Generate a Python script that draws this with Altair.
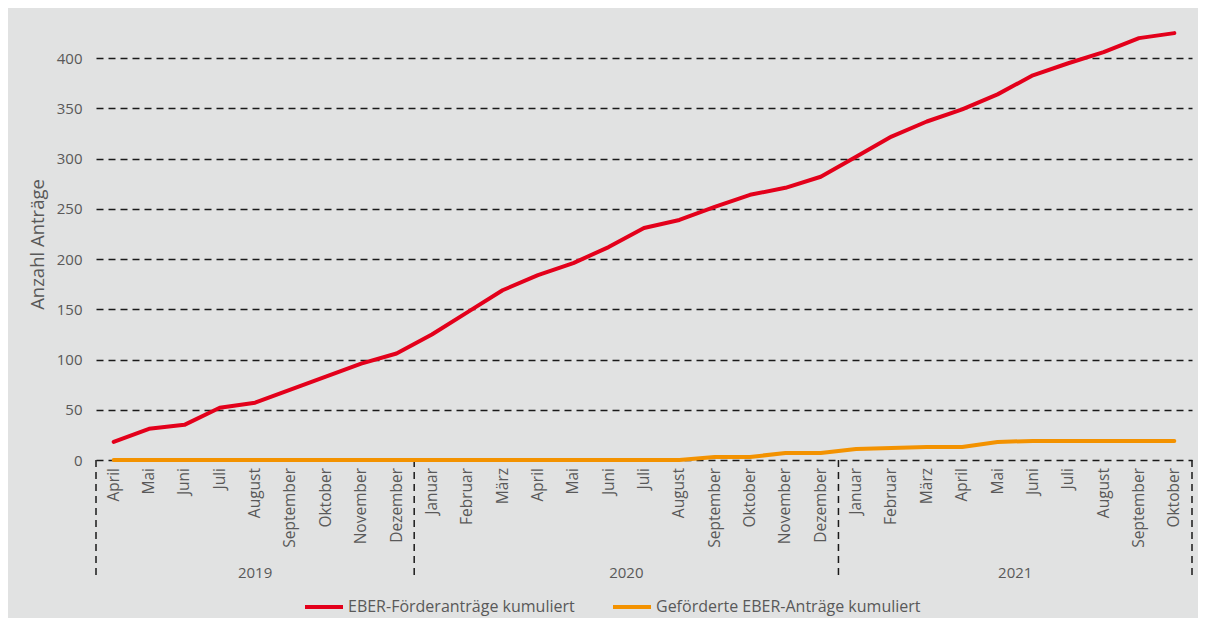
import altair as alt
import pandas as pd

months = ["April", "Mai", "Juni", "Juli", "August", "September", "Oktober", "November", "Dezember",
          "Januar", "Februar", "März", "April", "Mai", "Juni", "Juli", "August", "September", "Oktober",
          "November", "Dezember",
          "Januar", "Februar", "März", "April", "Mai", "Juni", "Juli", "August", "September", "Oktober"]
eber_antraege = [18, 31, 35, 52, 57, 70, 83, 96, 106,
                 125, 147, 169, 184, 196, 212, 231, 239, 252, 264, 271, 282,
                 302, 322, 337, 349, 364, 383, 395, 406, 420, 425]
gefoerdert = [0, 0, 0, 0, 0, 0, 0, 0, 0,
              0, 0, 0, 0, 0, 0, 0, 0, 3, 3, 7, 7,
              11, 12, 13, 13, 18, 19, 19, 19, 19, 19]
series_names = ["EBER-Förderanträge kumuliert", "Geförderte EBER-Anträge kumuliert"]
series_colors = ["#e3001b", "#f39200"]
years = ["2019", "2020", "2021"]
year_start = [-0.5, 8.5, 20.5]
year_end = [8.5, 20.5, 30.5]
y_ticks = [0, 50, 100, 150, 200, 250, 300, 350, 400]

TXT = "#595959"
FONT = "Open Sans"
GRID = "#1a1a1a"

rows = []
for i, m in enumerate(months):
    rows.append({"idx": i, "monat": m, "wert": eber_antraege[i], "serie": series_names[0]})
for i, m in enumerate(months):
    rows.append({"idx": i, "monat": m, "wert": gefoerdert[i], "serie": series_names[1]})
df = pd.DataFrame(rows)

df_months = pd.DataFrame({"idx": list(range(len(months))), "monat": months})
bounds = sorted(set(year_start + year_end))
df_bounds = pd.DataFrame({"idx": bounds})
df_years = pd.DataFrame({"jahr": years,
                         "idx": [(a + b) / 2 for a, b in zip(year_start, year_end)]})

xscale = alt.Scale(domain=[-0.5, 30.5], nice=False, zero=False)
yscale = alt.Scale(domain=[0, 450], nice=False)

lines = alt.Chart(df).mark_line(strokeWidth=4, strokeJoin="round", strokeCap="round").encode(
    x=alt.X("idx:Q", scale=xscale,
            axis=alt.Axis(values=list(range(len(months))), labels=False, title=None,
                          grid=False, ticks=False, domain=True, domainColor=GRID,
                          domainDash=[7, 5], domainWidth=1.5)),
    y=alt.Y("wert:Q", scale=yscale,
            axis=alt.Axis(values=y_ticks, title="Anzahl Anträge", grid=True, gridDash=[7, 5],
                          gridColor=GRID, gridWidth=1.5, domain=False, ticks=False,
                          labelPadding=14, labelFontSize=15, labelColor=TXT, labelFont=FONT,
                          titleFontSize=18.5, titleFontWeight="normal", titleColor=TXT,
                          titleFont=FONT, titlePadding=9, titleY=236)),
    color=alt.Color("serie:N", scale=alt.Scale(domain=series_names, range=series_colors),
                    legend=alt.Legend(orient="none", legendX=207, legendY=578,
                                      direction="horizontal", title=None,
                                      symbolType="stroke", symbolStrokeWidth=4, symbolSize=1444,
                                      labelFontSize=16, labelColor=TXT, labelFont=FONT,
                                      labelOffset=3, columnPadding=30, labelLimit=0)),
    order=alt.Order("idx:Q"),
)

month_text = alt.Chart(df_months).mark_text(
    fontSize=15.5, color=TXT, font=FONT, angle=270, align="right", baseline="middle"
).encode(
    x=alt.X("idx:Q", scale=xscale, axis=None),
    y=alt.value(460),
    text="monat:N",
)

seps = alt.Chart(df_bounds).mark_rule(color=GRID, strokeWidth=1.5, strokeDash=[7, 5]).encode(
    x=alt.X("idx:Q", scale=xscale, axis=None),
    y=alt.value(452),
    y2=alt.value(572),
)

year_text = alt.Chart(df_years).mark_text(fontSize=15, color=TXT, font=FONT, baseline="middle").encode(
    x=alt.X("idx:Q", scale=xscale, axis=None),
    y=alt.value(565),
    text="jahr:N",
)

chart = alt.layer(seps, lines, month_text, year_text).properties(
    width=1096, height=452,
    padding={"left": 88, "top": 0, "right": 6, "bottom": 158},
    autosize=alt.AutoSizeParams(type="none"),
    background="#e1e2e2",
).configure_view(stroke=None)

chart.save("out.html", embed_options={"renderer": "svg", "actions": False})
